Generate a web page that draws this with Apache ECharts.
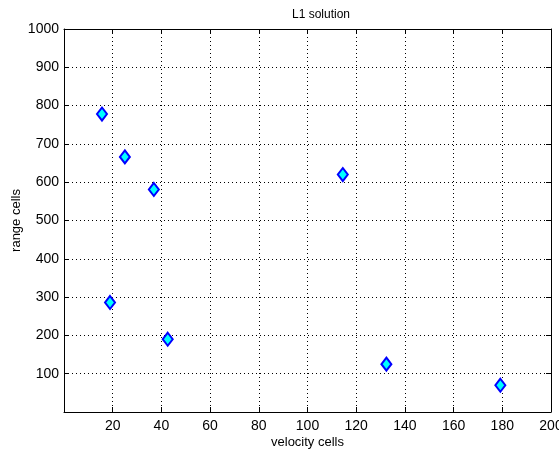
<!DOCTYPE html>
<html lang="en">
  <head>
    <meta charset="UTF-8" />
    <title>L1 solution</title>
    <script src="https://cdn.jsdelivr.net/npm/echarts@6/dist/echarts.min.js"></script>
    <style>
      html, body { margin: 0; padding: 0; background: #fff; }
      #app { width: 559px; height: 453px; }
    </style>
  </head>
  <body>
    <div id="app"></div>
    <script>
      // velocity cell / range cell of each detected target
      const velocityCells = [15.6, 25.0, 36.9, 18.9, 42.6, 114.5, 132.4, 179.2];
      const rangeCells = [778, 666, 581, 286, 190, 620, 125, 70];

      const xTicks = { min: 0, max: 200, step: 20 };
      const yTicks = { min: 0, max: 1000, step: 100 };

      const font = "Liberation Sans";
      const points = velocityCells.map((v, i) => [v, rangeCells[i]]);

      const hideZero = (v) => (v === 0 ? "" : String(v));

      const grid = { left: 64, right: 8, top: 29, bottom: 41, containLabel: false, outerBoundsMode: "none" };

      function mainAxis(t, name, extra) {
        return Object.assign(
          {
            type: "value",
            min: t.min,
            max: t.max,
            interval: t.step,
            name: name,
            nameLocation: "middle",
            nameMoveOverlap: false,
            nameTextStyle: { color: "#000", fontFamily: font, fontSize: 13 },
            axisLine: { show: true, onZero: false, lineStyle: { color: "#000", width: 1 } },
            axisTick: { show: true, inside: true, length: 5, lineStyle: { color: "#000" } },
            axisLabel: { color: "#000", fontFamily: font, fontSize: 14, formatter: hideZero },
            splitLine: { show: true, lineStyle: { color: "#000", type: [1, 3], width: 1 } },
          },
          extra
        );
      }

      function boxAxis(t, position) {
        return {
          type: "value",
          position: position,
          min: t.min,
          max: t.max,
          interval: t.step,
          axisLine: { show: true, onZero: false, lineStyle: { color: "#000", width: 1 } },
          axisTick: { show: true, inside: true, length: 5, lineStyle: { color: "#000" } },
          axisLabel: { show: false },
          splitLine: { show: false },
        };
      }

      const chart = echarts.init(document.getElementById("app"), null, { renderer: "canvas" });

      chart.setOption({
        animation: false,
        backgroundColor: "#fff",
        title: {
          text: "L1 solution",
          left: 287,
          top: 4,
          textStyle: { color: "#000", fontFamily: font, fontSize: 12, fontWeight: "normal" },
        },
        grid: grid,
        xAxis: [
          mainAxis(xTicks, "velocity cells", { position: "bottom", nameGap: 24, axisLabel: { color: "#000", fontFamily: font, fontSize: 14, margin: 7, formatter: hideZero } }),
          boxAxis(xTicks, "top"),
        ],
        yAxis: [
          mainAxis(yTicks, "range cells", { position: "left", nameGap: 41, axisLabel: { color: "#000", fontFamily: font, fontSize: 14, margin: 5, formatter: hideZero } }),
          boxAxis(yTicks, "right"),
        ],
        series: [
          {
            type: "scatter",
            data: points,
            symbol: "diamond",
            symbolSize: [10, 13],
            itemStyle: { color: "#00ffff", borderColor: "#0000ff", borderWidth: 2, opacity: 1 },
          },
        ],
      });
    </script>
  </body>
</html>
